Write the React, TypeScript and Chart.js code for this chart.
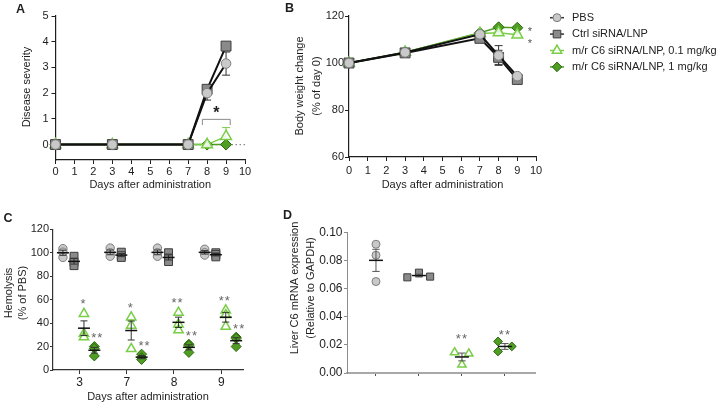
import React, { useEffect, useRef } from 'react';
import { Chart, registerables } from 'chart.js';

Chart.register(...registerables);

const FONT = '"Liberation Sans", Arial, Helvetica, sans-serif';
const INK = '#1e1e1e';

// ---------------- data ----------------
const SERIES = ['PBS', 'Ctrl siRNA/LNP', 'm/r C6 siRNA/LNP, 0.1 mg/kg', 'm/r C6 siRNA/LNP, 1 mg/kg'];

// A - disease severity
const severityDays = [0, 3, 7, 8, 9];
const severityPBS = [0, 0, 0, 2.0, 3.15];
const severityPBSSem = [0, 0, 0, 0.27, 0.45];
const severityCtrl = [0, 0, 0, 2.15, 3.83];
const severityCtrlSem = [0, 0, 0, 0.12, 0.1];
const severityLow = [0, 0, 0, 0, 0.32];
const severityLowSem = [0, 0, 0, 0, 0.34];
const severityHigh = [0, 0, 0, 0, 0];
const severityHighSem = [0, 0, 0, 0, 0];
const severityXTicks = [0, 1, 2, 3, 4, 5, 6, 7, 8, 9, 10];
const severityYTicks = [0, 1, 2, 3, 4, 5];
const severitySigLabel = '*';

// B - body weight
const weightDays = [0, 3, 7, 8, 9];
const weightPBS = [100, 104.5, 112.2, 103.2, 94.4];
const weightPBSSem = [0, 0.5, 0.6, 4.2, 0.8];
const weightCtrl = [100, 104.3, 110.5, 102.4, 93.0];
const weightCtrlSem = [0, 0.5, 0.8, 3.0, 0.9];
const weightLow = [100, 104.6, 112.6, 112.9, 112.0];
const weightLowSem = [0, 0.4, 0.5, 0.6, 0.7];
const weightHigh = [100, 104.6, 112.9, 115.2, 115.0];
const weightHighSem = [0, 0.4, 0.5, 0.5, 0.5];
const weightXTicks = [0, 1, 2, 3, 4, 5, 6, 7, 8, 9, 10];
const weightYTicks = [60, 80, 100, 120];
const weightSig = ['', '', '*', '*'];

// C - hemolysis (3 animals per group, per day)
const hemolysisDays = ['3', '7', '8', '9'];
const hemolysisPBS = [[103.5, 100.5, 96], [104, 100, 97], [104, 100, 97], [103, 100, 98]];
const hemolysisCtrl = [[97, 92, 89], [100.5, 97.5, 96], [100, 95.5, 92.5], [100, 98.5, 96.5]];
const hemolysisLow = [[48, 31, 28], [45, 38, 18], [49, 39, 34], [51, 47, 37]];
const hemolysisHigh = [[20, 18.5, 12], [13.5, 10.5, 9], [22, 21, 15], [28, 27, 20]];
const hemolysisSigLow = ['*', '*', '**', '**'];
const hemolysisSigHigh = ['**', '**', '**', '**'];
const hemolysisYTicks = [0, 20, 40, 60, 80, 100, 120];

// D - liver C6 mRNA
const liverPBS = [0.0915, 0.0837, 0.065];
const liverCtrl = [0.068, 0.0713, 0.0685];
const liverLow = [0.0146, 0.0137, 0.0059];
const liverHigh = [0.0224, 0.0153, 0.0189];
const liverSig = ['', '', '**', '**'];
const liverYTicks = [0, 0.02, 0.04, 0.06, 0.08, 0.1];

// ---------------- styles ----------------
const STYLES = [
  { shape: 'circle', fill: '#c9c9c9', stroke: '#7d7d7d', line: '#111111', err: '#333333', bw: 1 },
  { shape: 'rect', fill: '#8a8a8a', stroke: '#3d3d3d', line: '#111111', err: '#333333', bw: 1 },
  { shape: 'triangle', fill: 'rgba(255,255,255,0.85)', stroke: '#79cd47', line: '#79cd47', err: '#79cd47', bw: 1.5 },
  { shape: 'rectRot', fill: '#4f9d23', stroke: '#2c6810', line: '#4f9d23', err: '#2c6810', bw: 1 },
];
const LINE_W = [2, 2, 1.5, 1.5];
const R_AB = [4.8, 7, 6.2, 5.5];
const R_C = [4.2, 5.6, 5.4, 5];
const R_D = [4, 5, 4.8, 4.4];
const R_LEG = [4, 5.4, 5.4, 4.8];
const C_OFFSETS = [-0.35, -0.115, 0.095, 0.315];
const D_JITTER = [[0, 0, 0], [-0.27, 0, 0.26], [-0.17, 0.16, 0], [-0.16, -0.16, 0.16]];

// ---------------- helpers ----------------
function drawShape(ctx: CanvasRenderingContext2D, shape: string, x: number, y: number, r: number, fill: string, stroke: string, bw: number) {
  ctx.beginPath();
  if (shape === 'circle') {
    ctx.arc(x, y, r, 0, Math.PI * 2);
  } else if (shape === 'rect') {
    const h = r * Math.SQRT1_2;
    ctx.rect(x - h, y - h, 2 * h, 2 * h);
  } else if (shape === 'triangle') {
    for (let k = 0; k < 3; k++) {
      const a = (k * 2 * Math.PI) / 3;
      const px = x + Math.sin(a) * r;
      const py = y - Math.cos(a) * r;
      if (k === 0) ctx.moveTo(px, py); else ctx.lineTo(px, py);
    }
    ctx.closePath();
  } else {
    ctx.moveTo(x - r, y);
    ctx.lineTo(x, y - r);
    ctx.lineTo(x + r, y);
    ctx.lineTo(x, y + r);
    ctx.closePath();
  }
  ctx.fillStyle = fill;
  ctx.fill();
  ctx.lineWidth = bw;
  ctx.strokeStyle = stroke;
  ctx.stroke();
}

function drawStar(ctx: CanvasRenderingContext2D, text: string, x: number, cy: number, size: number, bold: boolean, color: string) {
  ctx.save();
  ctx.font = `${bold ? 'bold ' : ''}${size}px ${FONT}`;
  ctx.fillStyle = color;
  ctx.textAlign = 'center';
  ctx.textBaseline = 'alphabetic';
  (ctx as any).letterSpacing = text.length > 1 ? '1px' : '0px';
  ctx.fillText(text, x, cy + size * 0.57);
  ctx.restore();
}

function makeFig(cfg: any) {
  return {
    id: 'fig',
    beforeDatasetsDraw(chart: any) {
      if (!cfg.lineErrors) return;
      const ctx = chart.ctx;
      const ys = chart.scales.y;
      chart.data.datasets.forEach((ds: any, i: number) => {
        if (!ds.sem) return;
        const meta = chart.getDatasetMeta(i);
        ctx.save();
        ctx.strokeStyle = ds.errColor;
        ctx.lineWidth = 1;
        meta.data.forEach((pt: any, j: number) => {
          const s = ds.sem[j];
          if (!s) return;
          const v = ds.data[j].y;
          const y1 = ys.getPixelForValue(v - s);
          const y2 = ys.getPixelForValue(v + s);
          const x = pt.x;
          ctx.beginPath();
          ctx.moveTo(x, y1); ctx.lineTo(x, y2);
          ctx.moveTo(x - 4, y1); ctx.lineTo(x + 4, y1);
          ctx.moveTo(x - 4, y2); ctx.lineTo(x + 4, y2);
          ctx.stroke();
        });
        ctx.restore();
      });
    },
    afterDatasetsDraw(chart: any) {
      const ctx = chart.ctx;
      const xs = chart.scales.x;
      const ys = chart.scales.y;
      if (cfg.meanSem) {
        ctx.save();
        for (const it of cfg.meanSem) {
          const n = it.values.length;
          const m = it.values.reduce((a: number, v: number) => a + v, 0) / n;
          const sd = Math.sqrt(it.values.reduce((a: number, v: number) => a + (v - m) * (v - m), 0) / (n - 1));
          const se = sd / Math.sqrt(n);
          const px = xs.getPixelForValue(it.x);
          const py = ys.getPixelForValue(m);
          const y1 = ys.getPixelForValue(m - se);
          const y2 = ys.getPixelForValue(m + se);
          ctx.strokeStyle = it.semColor;
          ctx.lineWidth = 1;
          ctx.beginPath();
          ctx.moveTo(px, y1); ctx.lineTo(px, y2);
          ctx.moveTo(px - it.cap, y1); ctx.lineTo(px + it.cap, y1);
          ctx.moveTo(px - it.cap, y2); ctx.lineTo(px + it.cap, y2);
          ctx.stroke();
          ctx.strokeStyle = it.meanColor;
          ctx.lineWidth = 1.5;
          ctx.beginPath();
          ctx.moveTo(px - it.half, py); ctx.lineTo(px + it.half, py);
          ctx.stroke();
        }
        ctx.restore();
      }
      if (cfg.bracket) {
        const b = cfg.bracket;
        const x1 = xs.getPixelForValue(b.x1);
        const x2 = xs.getPixelForValue(b.x2);
        const y = ys.getPixelForValue(b.y);
        const yl = ys.getPixelForValue(b.yLeg);
        ctx.save();
        ctx.strokeStyle = b.color;
        ctx.lineWidth = 1;
        ctx.beginPath();
        ctx.moveTo(x1, yl); ctx.lineTo(x1, y); ctx.lineTo(x2, y); ctx.lineTo(x2, yl);
        ctx.stroke();
        ctx.restore();
        drawStar(ctx, b.text, (x1 + x2) / 2, y + b.textDy, b.size, true, INK);
      }
      if (cfg.sig) {
        for (const s of cfg.sig) {
          if (!s.text) continue;
          drawStar(ctx, s.text, xs.getPixelForValue(s.x) + s.dx, ys.getPixelForValue(s.y) + s.dy, s.size, false, s.color);
        }
      }
    },
    afterDraw(chart: any) {
      const ctx = chart.ctx;
      if (cfg.texts) {
        for (const t of cfg.texts) {
          ctx.save();
          ctx.font = `${t.bold ? 'bold ' : ''}${t.size}px ${FONT}`;
          ctx.fillStyle = t.color || INK;
          ctx.translate(t.x, t.y);
          if (t.rotate) ctx.rotate(-Math.PI / 2);
          ctx.textAlign = t.align || 'center';
          ctx.textBaseline = t.baseline || 'middle';
          t.lines.forEach((line: string, i: number) => {
            ctx.fillText(line, 0, i * (t.gap || 0));
          });
          ctx.restore();
        }
      }
      if (cfg.legend) {
        const lg = cfg.legend;
        const ca = chart.chartArea;
        lg.items.forEach((it: any, i: number) => {
          const st = STYLES[it.s];
          const y = lg.y0 + i * lg.step;
          const mx = ca.right + lg.dx;
          ctx.save();
          ctx.strokeStyle = st.line === '#111111' ? '#333333' : st.line;
          ctx.lineWidth = 1.5;
          ctx.beginPath();
          ctx.moveTo(mx - 7, y); ctx.lineTo(mx + 7, y);
          ctx.stroke();
          drawShape(ctx, st.shape, mx, y, R_LEG[it.s], st.fill, st.stroke, st.bw);
          ctx.font = `11px ${FONT}`;
          ctx.fillStyle = '#222222';
          ctx.textAlign = 'left';
          ctx.textBaseline = 'middle';
          ctx.fillText(it.label, ca.right + lg.textDx, y);
          ctx.restore();
        });
      }
    },
  };
}

function linAxis(min: number, max: number, tickVals: number[], fitSize: number, horizontal: boolean, o: any = {}) {
  return {
    type: 'linear',
    min,
    max,
    afterBuildTicks: (s: any) => { s.ticks = tickVals.map((v) => ({ value: v })); },
    afterFit: (s: any) => { if (horizontal) s.height = fitSize; else s.width = fitSize; },
    grid: { display: true, drawOnChartArea: false, drawTicks: true, tickLength: o.tickLength ?? 4, color: o.tickColor ?? o.color ?? INK, lineWidth: 1 },
    border: { display: true, color: o.color ?? INK, width: o.borderWidth ?? 1.2 },
    ticks: {
      autoSkip: false,
      maxRotation: 0,
      padding: o.pad ?? 2,
      color: INK,
      font: { family: FONT, size: o.fontSize ?? 11 },
      callback: o.callback ?? ((v: any) => String(v)),
    },
    title: o.title ?? { display: false },
  };
}

function lineDataset(s: number, xs: number[], ys: number[], sem: number[]) {
  const st = STYLES[s];
  return {
    label: SERIES[s],
    data: xs.map((x, i) => ({ x, y: ys[i] })),
    sem,
    errColor: st.err,
    borderColor: st.line,
    borderWidth: LINE_W[s],
    backgroundColor: st.fill,
    pointStyle: st.shape,
    pointRadius: R_AB[s],
    pointHoverRadius: R_AB[s],
    pointBackgroundColor: st.fill,
    pointBorderColor: st.stroke,
    pointBorderWidth: st.bw,
    tension: 0,
    fill: false,
    clip: false,
  };
}

function scatterDataset(s: number, pts: { x: number; y: number }[], r: number) {
  const st = STYLES[s];
  return {
    label: SERIES[s],
    data: pts,
    showLine: false,
    pointStyle: st.shape,
    pointRadius: r,
    pointHoverRadius: r,
    pointBackgroundColor: st.fill,
    pointBorderColor: st.stroke,
    pointBorderWidth: st.bw,
    backgroundColor: st.fill,
    borderColor: st.stroke,
    clip: false,
  };
}

const xTitle = (bottom: number) => ({
  display: true,
  text: 'Days after administration',
  font: { family: FONT, size: 11 },
  color: INK,
  padding: { top: 0, bottom },
});

const baseOptions = (padding: any) => ({
  animation: false,
  responsive: false,
  maintainAspectRatio: false,
  events: [],
  layout: { padding },
  plugins: { legend: { display: false }, tooltip: { enabled: false } },
});

// ---------------- chart configs ----------------
function configA(): any {
  return {
    type: 'line',
    data: {
      datasets: [
        lineDataset(0, severityDays, severityPBS, severityPBSSem),
        lineDataset(1, severityDays, severityCtrl, severityCtrlSem),
        lineDataset(2, severityDays, severityLow, severityLowSem),
        lineDataset(3, severityDays, severityHigh, severityHighSem),
        {
          label: 'baseline',
          data: [{ x: severityXTicks[0], y: 0 }, { x: severityXTicks[severityXTicks.length - 1], y: 0 }],
          borderColor: '#8a8a8a',
          borderWidth: 1.3,
          borderDash: [1.5, 2.5],
          pointRadius: 0,
          fill: false,
        },
      ],
    },
    options: {
      ...baseOptions({ left: 0, right: 20, top: 16, bottom: 0 }),
      scales: {
        x: linAxis(0, 10, severityXTicks, 40, true, { tickLength: 4, pad: 1, title: xTitle(8.4) }),
        y: linAxis(-0.6, 5, severityYTicks, 55.5, false, { tickLength: 4, pad: 3 }),
      },
    },
    plugins: [
      makeFig({
        lineErrors: true,
        bracket: { x1: 7.75, x2: 9.22, y: 0.98, yLeg: 0.76, color: '#8a8a8a', text: severitySigLabel, size: 16, textDy: -10 },
        texts: [
          { lines: ['A'], x: 16, y: 12.7, size: 12.5, bold: true, align: 'left', baseline: 'alphabetic' },
          { lines: ['Disease severity'], x: 27, y: 87, size: 11, rotate: true },
        ],
      }),
    ],
  };
}

function configB(): any {
  const sigDy = [0, 0, 6, 1];
  const lastDay = weightDays[weightDays.length - 1];
  const lastVals = [weightPBS, weightCtrl, weightLow, weightHigh].map((a) => a[a.length - 1]);
  return {
    type: 'line',
    data: {
      datasets: [
        lineDataset(0, weightDays, weightPBS, weightPBSSem),
        lineDataset(1, weightDays, weightCtrl, weightCtrlSem),
        lineDataset(2, weightDays, weightLow, weightLowSem),
        lineDataset(3, weightDays, weightHigh, weightHighSem),
      ],
    },
    options: {
      ...baseOptions({ left: 0, right: 188, top: 16, bottom: 0 }),
      scales: {
        x: linAxis(0, 10, weightXTicks, 43, true, { tickLength: 4, pad: 3, title: xTitle(8.4) }),
        y: linAxis(60, 120, weightYTicks, 109, false, { tickLength: 4, pad: 1 }),
      },
    },
    plugins: [
      makeFig({
        lineErrors: true,
        sig: weightSig.map((t, s) => ({ text: t, x: lastDay, y: lastVals[s], dx: 12.5, dy: sigDy[s], size: 11, color: '#555555' })),
        legend: { dx: 21, textDx: 36, y0: 17.7, step: 16.4, items: SERIES.map((label, s) => ({ label, s })) },
        texts: [
          { lines: ['B'], x: 45, y: 11.7, size: 12.5, bold: true, align: 'left', baseline: 'alphabetic' },
          { lines: ['Body weight change', '(% of day 0)'], x: 60, y: 86, size: 11, rotate: true, gap: 16.5 },
        ],
      }),
    ],
  };
}

function configC(): any {
  const groups = [hemolysisPBS, hemolysisCtrl, hemolysisLow, hemolysisHigh];
  const datasets = groups.map((g, s) =>
    scatterDataset(s, g.flatMap((vals, d) => vals.map((v) => ({ x: d + C_OFFSETS[s], y: v }))), R_C[s]),
  );
  const meanSem = groups.flatMap((g, s) =>
    g.map((vals, d) => ({ x: d + C_OFFSETS[s], values: vals, half: 6, cap: 3.5, meanColor: '#111111', semColor: '#333333' })),
  );
  const sig = [
    ...hemolysisSigLow.map((t, d) => ({ text: t, x: d + C_OFFSETS[2], y: Math.max(...hemolysisLow[d]), dx: -1, dy: -13, size: 13, color: '#666666' })),
    ...hemolysisSigHigh.map((t, d) => ({ text: t, x: d + C_OFFSETS[3], y: Math.max(...hemolysisHigh[d]), dx: 3, dy: -12, size: 13, color: '#666666' })),
  ];
  return {
    type: 'scatter',
    data: { datasets },
    options: {
      ...baseOptions({ left: 0, right: 19, top: 29.3, bottom: 0 }),
      scales: {
        x: linAxis(-0.56, 3.46, hemolysisDays.map((_, i) => i), 35, true, {
          tickLength: 4, pad: 1, fontSize: 12, color: '#333333',
          callback: (v: any) => hemolysisDays[Math.round(Number(v))] ?? '',
          title: xTitle(1.4),
        }),
        y: linAxis(0, 120, hemolysisYTicks, 53, false, { tickLength: 3, pad: 1, color: '#333333' }),
      },
    },
    plugins: [
      makeFig({
        meanSem,
        sig,
        texts: [
          { lines: ['C'], x: 3.5, y: 21.7, size: 12.5, bold: true, align: 'left', baseline: 'alphabetic' },
          { lines: ['Hemolysis', '(% of PBS)'], x: 9.3, y: 93, size: 11, rotate: true, gap: 14 },
        ],
      }),
    ],
  };
}

function configD(): any {
  const groups = [liverPBS, liverCtrl, liverLow, liverHigh];
  const datasets = groups.map((vals, s) =>
    scatterDataset(s, vals.map((v, j) => ({ x: s + D_JITTER[s][j], y: v })), R_D[s]),
  );
  const meanSem = groups.map((vals, s) => ({ x: s, values: vals, half: 7, cap: 3.7, meanColor: '#111111', semColor: '#555555' }));
  const sig = liverSig.map((t, s) => ({ text: t, x: s, y: Math.max(...groups[s]), dx: 0, dy: s === 2 ? -17 : -10, size: 13, color: '#666666' }));
  return {
    type: 'scatter',
    data: { datasets },
    options: {
      ...baseOptions({ left: 0, right: 189, top: 32.3, bottom: 0 }),
      scales: {
        x: linAxis(-0.674, 3.7, [0, 1, 2, 3], 32, true, {
          tickLength: 3, pad: 1, color: '#a8a8a8', tickColor: '#555555', borderWidth: 2,
          callback: () => '',
        }),
        y: linAxis(0, 0.1, liverYTicks, 67, false, {
          tickLength: 3, pad: 1.5, color: '#8c8c8c', borderWidth: 1, fontSize: 12,
          callback: (v: any) => Number(v).toFixed(2),
        }),
      },
    },
    plugins: [
      makeFig({
        meanSem,
        sig,
        texts: [
          { lines: ['D'], x: 3, y: 19, size: 12.5, bold: true, align: 'left', baseline: 'alphabetic' },
          { lines: ['Liver C6 mRNA expression', '(Relative to GAPDH)'], x: 15.3, y: 88, size: 11, rotate: true, gap: 15.4 },
        ],
      }),
    ],
  };
}

export default function App() {
  const refA = useRef<HTMLCanvasElement>(null);
  const refB = useRef<HTMLCanvasElement>(null);
  const refC = useRef<HTMLCanvasElement>(null);
  const refD = useRef<HTMLCanvasElement>(null);

  useEffect(() => {
    Chart.defaults.font.family = FONT;
    Chart.defaults.color = INK;
    const charts = [
      new Chart(refA.current as HTMLCanvasElement, configA()),
      new Chart(refB.current as HTMLCanvasElement, configB()),
      new Chart(refC.current as HTMLCanvasElement, configC()),
      new Chart(refD.current as HTMLCanvasElement, configD()),
    ];
    return () => charts.forEach((c) => c.destroy());
  }, []);

  const abs = (left: number, top: number) => ({ position: 'absolute' as const, left, top });

  return (
    <div style={{ position: 'absolute', left: 0, top: 0, width: 724, height: 405, background: '#ffffff', overflow: 'hidden' }}>
      <canvas ref={refA} width={265} height={200} style={{ ...abs(0, 0), width: 265, height: 200 }} />
      <canvas ref={refB} width={484} height={200} style={{ ...abs(240, 0), width: 484, height: 200 }} />
      <canvas ref={refC} width={262} height={205} style={{ ...abs(0, 200), width: 262, height: 205 }} />
      <canvas ref={refD} width={444} height={205} style={{ ...abs(280, 200), width: 444, height: 205 }} />
    </div>
  );
}
